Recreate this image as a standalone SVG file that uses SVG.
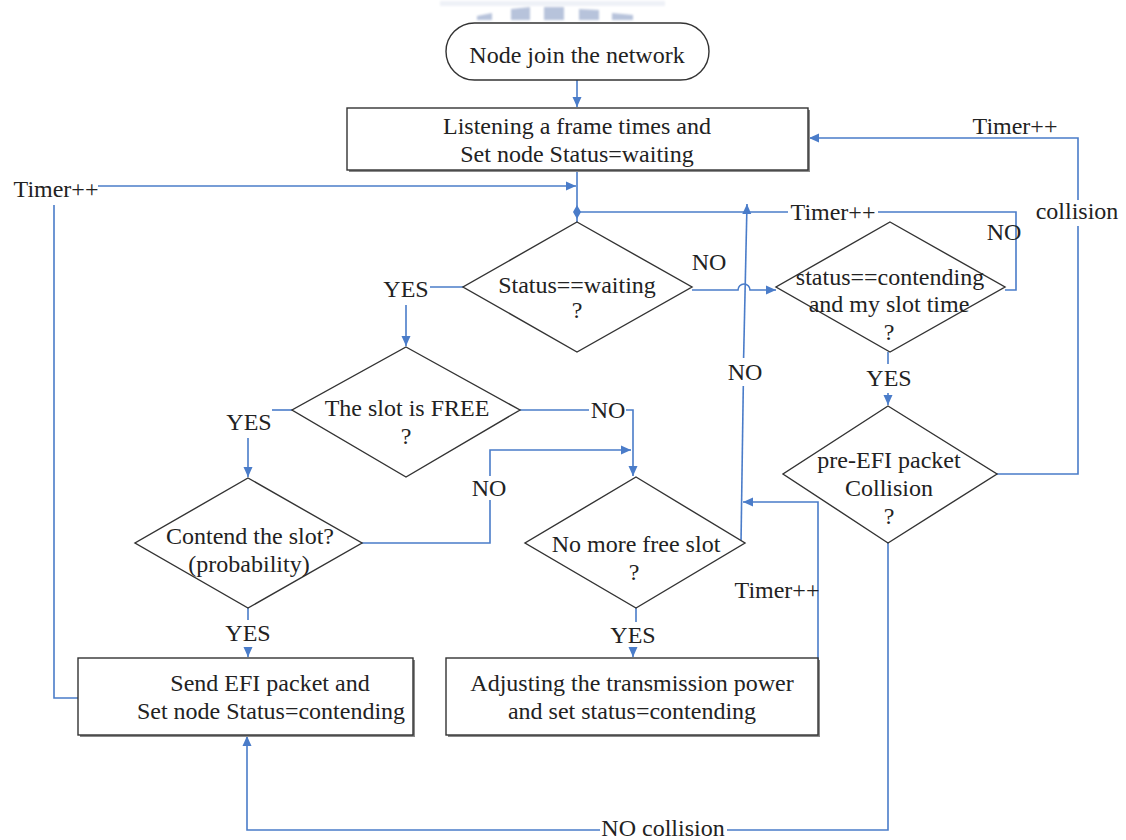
<svg xmlns="http://www.w3.org/2000/svg" width="1126" height="840" viewBox="0 0 1126 840">
  <defs>
    <marker id="arr" viewBox="0 0 10 10" refX="10" refY="5" markerWidth="10" markerHeight="10" markerUnits="userSpaceOnUse" orient="auto">
      <path d="M0,0.5 L10,5 L0,9.5 Z" fill="#4a7cc9"/>
    </marker>
    <filter id="soft" x="-10%" y="-50%" width="120%" height="200%">
      <feGaussianBlur stdDeviation="0.8"/>
    </filter>
    <style>
      text { font-family: "Liberation Serif", "Times New Roman", serif; font-size: 24px; fill: #222; text-anchor: middle; }
      .shape { fill: #fff; stroke: #333; stroke-width: 1.4; }
      .shadow { fill: #8a8a8a; stroke: none; }
      .link { fill: none; stroke: #4a7cc9; stroke-width: 1.6; }
      .arrow { marker-end: url(#arr); }
      .faint { fill: #b7c3db; }
    </style>
  </defs>
  <rect width="1126" height="840" fill="#fff"/>

  <!-- faint header fragments along the top edge -->
  <g id="header-fragments" filter="url(#soft)">
    <rect x="440" y="1" width="225" height="5" fill="#eef1f7"/>
    <polygon class="faint" points="477,16 492,13 492,20 477,20"/>
    <polygon class="faint" points="511,9 530,7 530,20 511,20"/>
    <polygon class="faint" points="544,7 564,7 564,20 544,20"/>
    <polygon class="faint" points="579,9 599,10 599,20 579,20"/>
    <polygon class="faint" points="612,13 633,15 633,20 612,20"/>
  </g>

  <!-- connectors -->
  <g id="connectors">
    <path class="link arrow" d="M577,80 L577,107"/>
    <path class="link" d="M577,170 L577,222"/>
    <path class="link arrow" d="M98,186 L576,186"/>
    <path class="link" d="M54,205 L54,698 L78,698"/>
    <!-- junction loop back from the contending test -->
    <path class="link" d="M577,212 L788,212"/>
    <path class="link" d="M878,212 L1016,212 L1016,290 L1005,290"/>
    <!-- no more free slot: back to the junction -->
    <path class="link" d="M741,543 L743.3,386"/>
    <path class="link arrow" d="M743.6,358 L747,204"/>
    <!-- Status==waiting NO branch with a hop over the vertical line -->
    <path class="link arrow" d="M692,290 L738,290 A6,6 0 0 1 750,290 L776,290"/>
    <!-- Status==waiting YES branch -->
    <path class="link" d="M463,287 L430,287"/>
    <path class="link arrow" d="M406,305 L406,346"/>
    <!-- slot FREE YES / NO -->
    <path class="link" d="M292,410 L272,410"/>
    <path class="link arrow" d="M248,438 L248,477"/>
    <path class="link" d="M520,410 L589,410"/>
    <path class="link arrow" d="M626,410 L633,410 L633,476"/>
    <!-- contend NO -->
    <path class="link" d="M362,543 L490,543 L490,500"/>
    <path class="link arrow" d="M490,476 L490,450 L631,450"/>
    <!-- contend YES -->
    <path class="link" d="M248,608 L248,620"/>
    <path class="link arrow" d="M248,648 L248,657"/>
    <!-- no more free slot YES -->
    <path class="link" d="M636,608 L636,622"/>
    <path class="link arrow" d="M633,650 L633,657"/>
    <!-- adjusting power: back up -->
    <path class="link arrow" d="M818,698 L818,502 L743,502"/>
    <!-- contending YES -->
    <path class="link" d="M888,352 L888,364"/>
    <path class="link arrow" d="M888,393 L888,405"/>
    <!-- collision loop -->
    <path class="link" d="M997,474 L1078,474 L1078,226"/>
    <path class="link arrow" d="M1078,200 L1078,138 L809,138"/>
    <!-- NO collision -->
    <path class="link" d="M888,543 L888,830 L727,830"/>
    <path class="link arrow" d="M600,830 L247,830 L247,736"/>
    <!-- junction marker -->
    <path d="M577,205 L581,212 L577,219 L573,212 Z" fill="#4a7cc9"/>
  </g>

  <!-- connector labels -->
  <g id="labels">
    <text x="56" y="197">Timer++</text>
    <text x="833" y="220">Timer++</text>
    <text x="1004" y="240">NO</text>
    <text x="745" y="380">NO</text>
    <text x="709" y="270">NO</text>
    <text x="406" y="297">YES</text>
    <text x="249" y="430">YES</text>
    <text x="608" y="418">NO</text>
    <text x="489" y="496">NO</text>
    <text x="248" y="641">YES</text>
    <text x="633" y="643">YES</text>
    <text x="777" y="598">Timer++</text>
    <text x="889" y="386">YES</text>
    <text x="1077" y="219">collision</text>
    <text x="1015" y="134">Timer++</text>
    <text x="663" y="836">NO collision</text>
  </g>

  <g id="start">
    <rect class="shape" x="446" y="23" width="263" height="57" rx="28.5"/>
    <text x="577" y="63">Node join the network</text>
  </g>

  <g id="listen">
    <rect class="shadow" x="349" y="110" width="461" height="62"/>
    <rect class="shape" x="347" y="108" width="461" height="62"/>
    <text x="577" y="134">Listening a frame times and</text>
    <text x="577" y="162">Set node Status=waiting</text>
  </g>

  <g id="status-waiting">
    <polygon class="shape" points="577,222 692,287 577,352 463,287"/>
    <text x="577" y="293">Status==waiting</text>
    <text x="577" y="318">?</text>
  </g>

  <g id="status-contending">
    <polygon class="shape" points="890,222 1005,287 890,352 776,287"/>
    <text x="890" y="285">status==contending</text>
    <text x="889" y="312">and my slot time</text>
    <text x="889" y="340">?</text>
  </g>

  <g id="slot-free">
    <polygon class="shape" points="406,347 520,410 406,477 292,410"/>
    <text x="407" y="416">The slot is FREE</text>
    <text x="406" y="444">?</text>
  </g>

  <g id="pre-efi-collision">
    <polygon class="shape" points="888,406 997,474 888,543 783,474"/>
    <text x="889" y="468">pre-EFI packet</text>
    <text x="889" y="496">Collision</text>
    <text x="889" y="524">?</text>
  </g>

  <g id="contend-slot">
    <polygon class="shape" points="248,478 362,543 248,608 135,543"/>
    <text x="250" y="544">Contend the slot?</text>
    <text x="249" y="572">(probability)</text>
  </g>

  <g id="no-free-slot">
    <polygon class="shape" points="636,477 745,543 636,608 525,543"/>
    <text x="636" y="552">No more free slot</text>
    <text x="634" y="580">?</text>
  </g>

  <g id="send-efi">
    <rect class="shadow" x="80" y="660" width="335" height="77"/>
    <rect class="shape" x="78" y="658" width="335" height="77"/>
    <text x="270" y="691">Send EFI packet and</text>
    <text x="271" y="719">Set node Status=contending</text>
  </g>

  <g id="adjust-power">
    <rect class="shadow" x="448" y="660" width="372" height="77"/>
    <rect class="shape" x="446" y="658" width="372" height="77"/>
    <text x="632" y="691">Adjusting the transmission power</text>
    <text x="632" y="719">and set status=contending</text>
  </g>
</svg>
